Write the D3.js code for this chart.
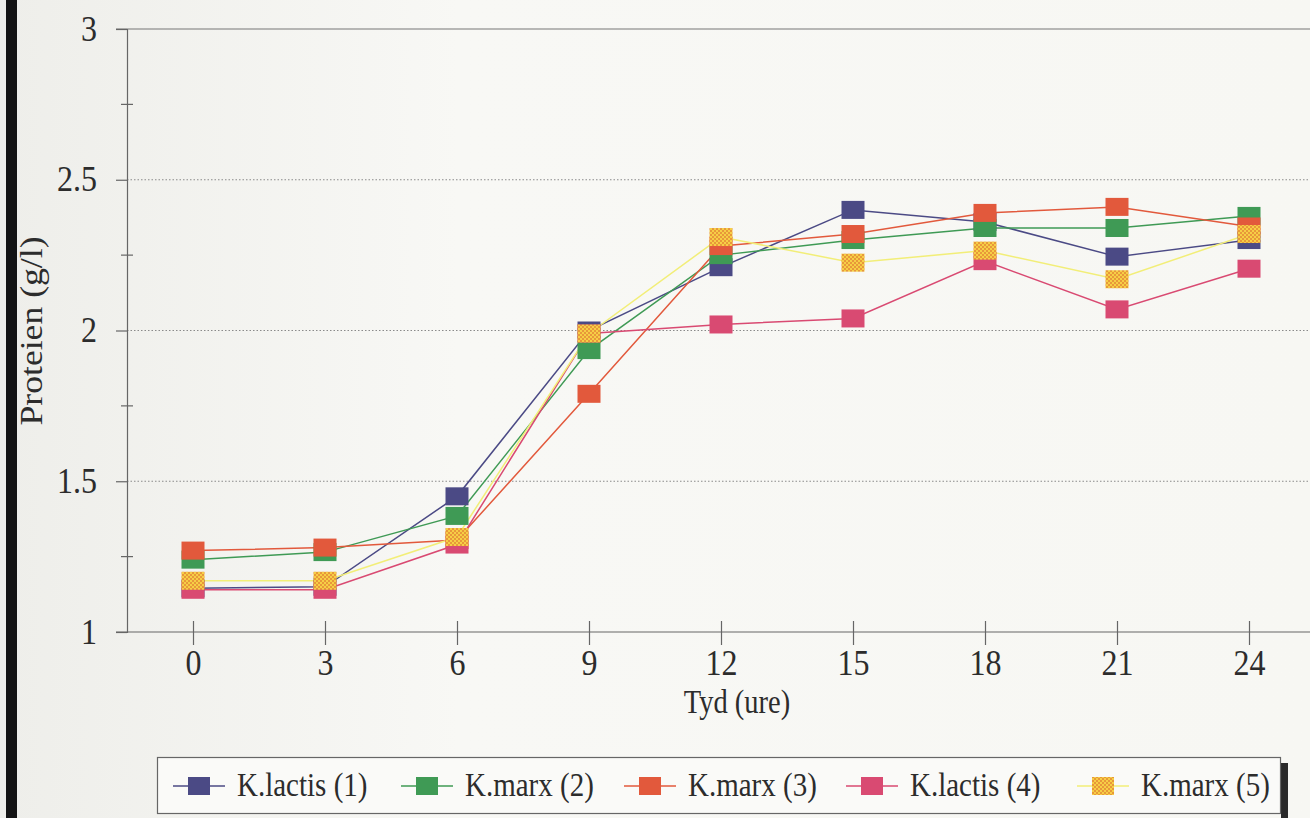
<!DOCTYPE html>
<html><head><meta charset="utf-8">
<script src="https://cdn.jsdelivr.net/npm/d3@7"></script>
<style>html,body{margin:0;padding:0;background:#f5f5f1;}svg{display:block;}</style>
</head><body>
<svg id="c" width="1310" height="818"></svg>
<script>
const hours = [0, 3, 6, 9, 12, 15, 18, 21, 24];
const yTicks = [1, 1.5, 2, 2.5, 3];
const seriesNames = ["K.lactis (1)", "K.marx (2)", "K.marx (3)", "K.lactis (4)", "K.marx (5)"];
const kLactis1 = [1.145, 1.15, 1.45, 2.0, 2.21, 2.40, 2.36, 2.245, 2.30];
const kMarx2   = [1.24, 1.265, 1.385, 1.935, 2.25, 2.30, 2.34, 2.34, 2.38];
const kMarx3   = [1.27, 1.28, 1.305, 1.79, 2.28, 2.32, 2.39, 2.41, 2.345];
const kLactis4 = [1.14, 1.14, 1.29, 1.99, 2.02, 2.04, 2.23, 2.07, 2.205];
const kMarx5   = [1.17, 1.17, 1.315, 1.99, 2.31, 2.225, 2.265, 2.17, 2.32];
const seriesValues = [kLactis1, kMarx2, kMarx3, kLactis4, kMarx5];
const lineColors = ["#4b4a85", "#3f9a55", "#e2593c", "#d94a72", "#f2ee78"];
const markColors = ["#4b4a85", "#3f9a55", "#e2593c", "#d94a72", "url(#chk)"];

const svg = d3.select("#c");
const defs = svg.append("defs");
const pat = defs.append("pattern").attr("id","chk").attr("width",4).attr("height",4).attr("patternUnits","userSpaceOnUse");
pat.append("rect").attr("width",4).attr("height",4).attr("fill","#f6cf45");
pat.append("rect").attr("width",2).attr("height",2).attr("fill","#e8983a");
pat.append("rect").attr("x",2).attr("y",2).attr("width",2).attr("height",2).attr("fill","#e8983a");
const bg = defs.append("linearGradient").attr("id","bg").attr("x1",0).attr("x2",1).attr("y1",0).attr("y2",0);
bg.append("stop").attr("offset","0").attr("stop-color","#eeeeea");
bg.append("stop").attr("offset","0.35").attr("stop-color","#f8f8f5");
bg.append("stop").attr("offset","1").attr("stop-color","#f7f7f3");

// background / scan edge
svg.append("rect").attr("x",0).attr("y",0).attr("width",1310).attr("height",818).attr("fill","url(#bg)");
svg.append("rect").attr("x",6).attr("y",0).attr("width",11).attr("height",818).attr("fill","#141414");

const x = d3.scaleLinear().domain([-1.5, 25.5]).range([127, 1315]);
const y = d3.scaleLinear().domain([1, 3]).range([632, 29]);
const font = "Liberation Serif, Times New Roman, serif";
const textCol = "#2c2c2c";
const SY = 1.15; // vertical stretch of the scanned text

function stretchedText(parent, tx, ty, str, size, anchor, rotate) {
  return parent.append("text")
    .attr("transform", `translate(${tx},${ty})` + (rotate ? ` rotate(-90) scale(${SY},1)` : ` scale(1,${SY})`))
    .attr("text-anchor", anchor).attr("font-family", font).attr("font-size", size)
    .attr("fill", textCol).text(str);
}

// gridlines
svg.append("g").selectAll("line").data([1.5, 2, 2.5]).join("line")
  .attr("x1", 127).attr("x2", 1310).attr("y1", d => y(d)).attr("y2", d => y(d))
  .attr("stroke", "#8a8a8a").attr("stroke-width", 1).attr("stroke-dasharray", "1.5,2");
svg.append("line").attr("x1",116).attr("x2",1310).attr("y1",y(3)).attr("y2",y(3)).attr("stroke","#777").attr("stroke-width",1.2);

// y axis
const yAxis = d3.axisLeft(y).tickValues(yTicks).tickSize(11).tickFormat(d3.format("~g"));
const gy = svg.append("g").attr("transform","translate(127,0)").call(yAxis);
gy.select(".domain").attr("stroke","#666").attr("stroke-width",1.2);
gy.selectAll(".tick line").attr("stroke","#666").attr("stroke-width",1.2);
gy.selectAll(".tick text").attr("font-family",font).attr("font-size",32).attr("fill",textCol)
  .attr("x",null).attr("dy",null).attr("y",null).attr("text-anchor","end")
  .attr("transform",`translate(-30,11) scale(1,${SY})`);
// minor ticks
svg.append("g").selectAll("line").data([1.25,1.75,2.25,2.75]).join("line")
  .attr("x1",121).attr("x2",133).attr("y1",d=>y(d)).attr("y2",d=>y(d)).attr("stroke","#666").attr("stroke-width",1.2);

// x axis
const xAxis = d3.axisBottom(x).tickValues(hours).tickSize(13).tickFormat(d3.format("d"));
const gx = svg.append("g").attr("transform","translate(0,632)").call(xAxis);
gx.select(".domain").remove();
svg.append("line").attr("x1",116).attr("x2",1310).attr("y1",632).attr("y2",632).attr("stroke","#666").attr("stroke-width",1.2);
gx.selectAll(".tick line").attr("stroke","#666").attr("stroke-width",1.2).attr("y1",-11);
gx.selectAll(".tick text").attr("font-family",font).attr("font-size",32).attr("fill",textCol)
  .attr("y",null).attr("dy",null).attr("transform",`translate(0,43) scale(1,${SY})`);

// titles
stretchedText(svg, 737, 713, "Tyd (ure)", 28.5, "middle", false);
stretchedText(svg, 42, 331, "Proteien (g/l)", 31, "middle", true);

// lines
const line = d3.line().x((d,i)=>x(hours[i])).y(d=>y(d));
const gl = svg.append("g");
seriesValues.forEach((vals, s) => {
  gl.append("path").datum(vals).attr("d", line).attr("fill","none")
    .attr("stroke", lineColors[s]).attr("stroke-width", 1.5);
});
const mw = 23, mh = 18;
seriesValues.forEach((vals, s) => {
  svg.append("g").selectAll("rect").data(vals).join("rect")
    .attr("x",(d,i)=>x(hours[i])-mw/2).attr("y",d=>y(d)-mh/2)
    .attr("width",mw).attr("height",mh).attr("fill",markColors[s]);
});

// legend
svg.append("rect").attr("x",1281).attr("y",763).attr("width",7).attr("height",55).attr("fill","#2a2a2a");
svg.append("rect").attr("x",157.5).attr("y",757.5).attr("width",1123).attr("height",56).attr("fill","#fafaf8").attr("stroke","#666").attr("stroke-width",1.2);
const legX = [199, 427, 650, 872, 1103];
seriesNames.forEach((name, s) => {
  const cx = legX[s], cy = 786;
  svg.append("line").attr("x1",cx-26).attr("x2",cx+26).attr("y1",cy).attr("y2",cy).attr("stroke",lineColors[s]).attr("stroke-width",1.5);
  svg.append("rect").attr("x",cx-11).attr("y",cy-9).attr("width",22).attr("height",18).attr("fill",markColors[s]);
  stretchedText(svg, cx+38, cy+10, name, 29, "start", false);
});
</script>
</body></html>
